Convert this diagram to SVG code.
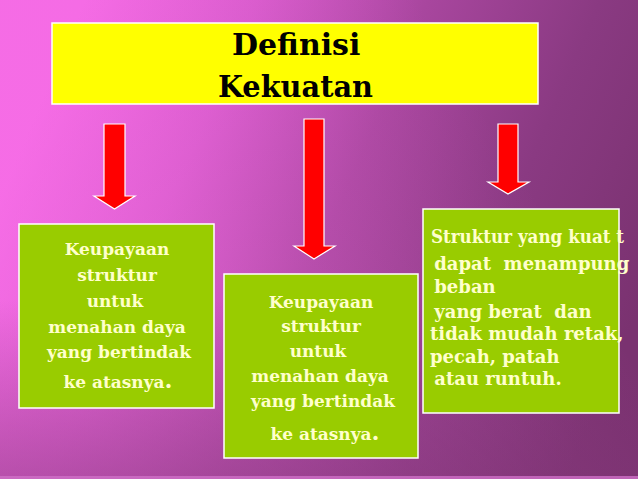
<svg xmlns="http://www.w3.org/2000/svg" width="638" height="479" viewBox="0 0 638 479">
<defs>
<linearGradient id="bg" gradientUnits="userSpaceOnUse" x1="20" y1="150" x2="600" y2="400">
<stop offset="0" stop-color="#F46AE4"/>
<stop offset="0.25" stop-color="#D65ACA"/>
<stop offset="0.5" stop-color="#A8469E"/>
<stop offset="0.75" stop-color="#8A3A82"/>
<stop offset="1" stop-color="#7A3270"/>
</linearGradient>
<linearGradient id="glow" gradientUnits="userSpaceOnUse" x1="0" y1="250" x2="420" y2="0">
<stop offset="0" stop-color="#F870E8" stop-opacity="0.45"/>
<stop offset="0.5" stop-color="#F870E8" stop-opacity="0.2"/>
<stop offset="1" stop-color="#F870E8" stop-opacity="0"/>
</linearGradient>
<linearGradient id="dark" gradientUnits="userSpaceOnUse" x1="0" y1="300" x2="0" y2="479">
<stop offset="0" stop-color="#7A3270" stop-opacity="0"/>
<stop offset="1" stop-color="#7A3270" stop-opacity="0.45"/>
</linearGradient>
<style>
.ttl{font-family:"DejaVu Serif","Liberation Serif",serif;font-weight:bold;font-size:30px;fill:#000}
.bx{fill:#99CC00;stroke:#FFFFFF;stroke-width:1.5}
.tb{font-family:"DejaVu Serif","Liberation Serif",serif;font-weight:bold;font-size:17px;fill:#FFFFCC;text-anchor:middle}
.tr{font-family:"DejaVu Serif","Liberation Serif",serif;font-weight:bold;font-size:18px;fill:#FFFFCC;white-space:pre}
.arr{fill:#FF0000;stroke:#FFFFFF;stroke-width:1.2;stroke-linejoin:miter}
.big{font-size:23px}
</style>
</defs>
<rect x="0" y="0" width="638" height="479" fill="url(#bg)"/>
<rect x="0" y="0" width="638" height="479" fill="url(#glow)"/>
<rect x="0" y="0" width="638" height="479" fill="url(#dark)"/>
<rect x="0" y="476" width="638" height="3" fill="#D070C8" opacity="0.8"/>

<g id="title">
<rect x="52" y="23" width="486" height="81" fill="#FFFF00" stroke="#FFFFFF" stroke-width="1.5"/>
<text class="ttl" x="232" y="55">Definisi</text>
<text class="ttl" x="218" y="97" textLength="155" lengthAdjust="spacingAndGlyphs">Kekuatan</text>
</g>

<g id="connectors">
<polygon class="arr" points="104,124 125,124 125,196 135,196 114.5,209 94,196 104,196"/>
<polygon class="arr" points="304,119 324,119 324,246 335,246 314,259 294,246 304,246"/>
<polygon class="arr" points="498,124 518,124 518,182 529,182 508,194 488,182 498,182"/>
</g>

<g id="box-left">
<rect class="bx" x="19" y="224" width="195" height="184"/>
<text class="tb" x="117" y="255">Keupayaan</text>
<text class="tb" x="117" y="281">struktur</text>
<text class="tb" x="115" y="307">untuk</text>
<text class="tb" x="117" y="333">menahan daya</text>
<text class="tb" x="119" y="358">yang bertindak</text>
<text class="tb" x="118" y="388">ke atasnya<tspan class="big">.</tspan></text>
</g>

<g id="box-middle">
<rect class="bx" x="224" y="274" width="194" height="184"/>
<text class="tb" x="321" y="308">Keupayaan</text>
<text class="tb" x="321" y="332">struktur</text>
<text class="tb" x="318" y="357">untuk</text>
<text class="tb" x="320" y="382">menahan daya</text>
<text class="tb" x="323" y="407">yang bertindak</text>
<text class="tb" x="325" y="440">ke atasnya<tspan class="big">.</tspan></text>
</g>

<g id="box-right">
<rect class="bx" x="423" y="209" width="196" height="204"/>
<text class="tr" x="431" y="243" textLength="193" lengthAdjust="spacingAndGlyphs">Struktur yang kuat t</text>
<text class="tr" x="428" y="270"> dapat  menampung</text>
<text class="tr" x="428" y="293"> beban</text>
<text class="tr" x="428" y="318"> yang berat  dan</text>
<text class="tr" x="430" y="340">tidak mudah retak,</text>
<text class="tr" x="430" y="363">pecah, patah</text>
<text class="tr" x="428" y="385"> atau runtuh.</text>
</g>
</svg>
